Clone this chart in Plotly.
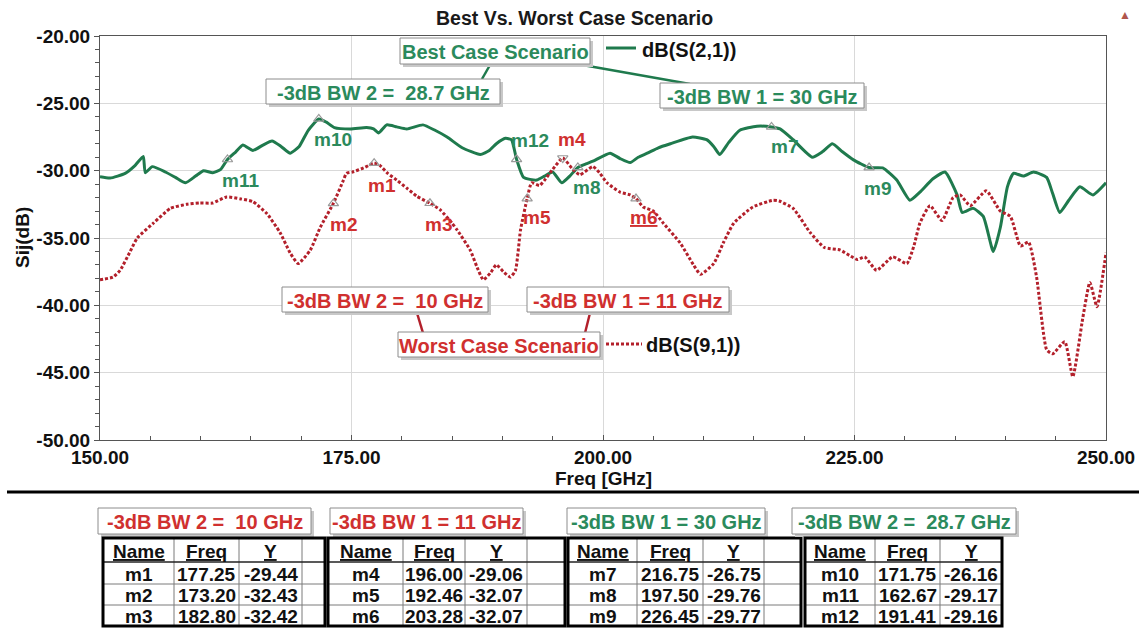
import plotly.graph_objects as go

# ---------------------------------------------------------------- data
freq_s21 = [150.0, 151.0, 152.5, 153.5, 154.3, 154.5, 155.2, 156.5, 157.5, 158.5,
            159.5, 160.3, 161.2, 162.0, 162.67, 163.5, 164.2, 165.2, 166.2, 167.1,
            168.0, 168.9, 169.8, 170.7, 171.75, 172.5, 173.3, 174.9, 176.5, 177.2,
            177.7, 178.5, 179.5, 180.5, 182.1, 183.3, 184.5, 186.0, 187.8, 188.7,
            189.4, 190.3, 190.9, 191.41, 192.1, 193.4, 194.2, 195.0, 195.9, 196.7,
            197.5, 198.3, 199.0, 200.7, 201.7, 202.7, 203.5, 204.4, 205.5, 206.7,
            208.9, 210.3, 211.0, 211.6, 212.5, 213.6, 215.3, 216.75, 217.6, 218.9,
            220.8, 221.8, 222.8, 223.8, 224.9, 226.45, 227.8, 229.2, 230.5, 231.5,
            232.8, 234.0, 235.2, 235.7, 236.8, 237.8, 238.8, 239.5, 240.2, 240.8,
            241.8, 242.8, 244.1, 244.7, 245.4, 246.3, 247.4, 248.7, 250.0]
db_s21 = [-30.45, -30.55, -30.2, -29.6, -28.95, -30.15, -29.7, -30.1, -30.5, -30.9,
          -30.4, -30.0, -30.15, -29.9, -29.17, -28.6, -28.1, -28.5, -28.1, -27.8,
          -28.2, -28.7, -28.2, -27.0, -26.16, -26.4, -26.8, -26.9, -26.8, -26.9,
          -27.2, -26.6, -26.75, -26.9, -26.6, -27.0, -27.5, -28.3, -28.8, -28.5,
          -28.0, -27.6, -27.7, -29.16, -30.5, -30.7, -30.4, -30.1, -30.9, -30.4,
          -29.76, -29.5, -29.3, -28.7, -29.1, -29.4, -29.0, -28.7, -28.3, -28.0,
          -27.5, -27.7, -28.2, -28.8, -27.9, -27.0, -26.7, -26.75, -26.9, -27.7,
          -29.0, -28.6, -28.0, -28.6, -29.2, -29.77, -29.8, -30.7, -32.2, -31.6,
          -30.6, -30.1, -31.8, -33.1, -32.8, -33.4, -36.0, -34.2, -31.2, -30.2,
          -30.4, -30.1, -30.5, -31.7, -33.1, -32.2, -31.2, -31.8, -30.9]

freq_s91 = [150.0, 151.3, 152.0, 153.0, 153.7, 155.3, 157.0, 158.6, 159.9, 161.2,
            162.6, 164.0, 165.2, 166.6, 167.9, 168.9, 169.7, 170.9, 171.9, 173.2,
            174.2, 174.5, 175.1, 176.2, 177.25, 177.8, 178.6, 179.5, 180.5, 181.5,
            182.8, 183.8, 185.0, 185.5, 186.8, 187.5, 188.1, 188.8, 189.4, 190.1,
            190.8, 191.3, 191.8, 192.46, 192.9, 193.7, 194.3, 195.0, 196.0, 197.0,
            197.7, 199.0, 199.7, 200.4, 201.7, 202.7, 203.28, 204.0, 205.0, 206.0,
            207.7, 209.0, 209.7, 211.0, 212.0, 213.0, 214.9, 216.9, 217.5, 218.9,
            220.6, 222.0, 223.6, 224.5, 225.3, 226.0, 227.2, 228.8, 230.2, 230.9,
            231.5, 232.5, 233.7, 234.8, 235.5, 236.5, 238.1, 239.5, 240.5, 241.5,
            242.3, 243.1, 244.1, 244.7, 245.9, 246.7, 247.7, 248.4, 249.1, 250.0]
db_s91 = [-38.1, -37.9, -37.4, -36.0, -35.0, -33.9, -32.8, -32.5, -32.4, -32.4,
          -31.95, -32.1, -32.3, -33.2, -34.6, -36.1, -36.9, -35.9, -34.2, -32.43,
          -30.7, -30.2, -30.1, -29.8, -29.44, -29.6, -30.2, -30.7, -31.3, -31.9,
          -32.42, -32.9, -33.9, -34.4, -35.9, -37.2, -38.1, -37.6, -37.0, -37.5,
          -37.9, -37.4, -34.4, -32.07, -30.9, -31.1, -30.6, -29.9, -29.06, -29.9,
          -30.3, -29.7, -30.2, -30.9, -31.6, -31.8, -32.07, -32.7, -33.0, -33.9,
          -35.4, -37.0, -37.7, -36.9, -35.3, -33.9, -32.7, -32.2, -32.25, -32.8,
          -34.6, -35.7, -35.9, -36.3, -36.6, -36.4, -37.4, -36.4, -36.9, -35.6,
          -33.9, -32.6, -33.7, -32.0, -31.8, -32.6, -31.5, -33.0, -33.4, -35.6,
          -35.3, -37.9, -43.3, -43.6, -42.7, -45.3, -40.9, -38.3, -40.1, -36.1]

marker_names = ["m1", "m2", "m3", "m4", "m5", "m6",
                "m7", "m8", "m9", "m10", "m11", "m12"]
marker_freq = [177.25, 173.20, 182.80, 196.00, 192.46, 203.28,
               216.75, 197.50, 226.45, 171.75, 162.67, 191.41]
marker_y = [-29.44, -32.43, -32.42, -29.06, -32.07, -32.07,
            -26.75, -29.76, -29.77, -26.16, -29.17, -29.16]

table_titles = ["-3dB BW 2 =\u00a0 10 GHz", "-3dB BW 1 = 11 GHz",
                "-3dB BW 1 = 30 GHz", "-3dB BW 2 =\u00a0 28.7 GHz"]
table_headers = ["Name", "Freq", "Y"]

best_labels = ["Best Case Scenario", "-3dB BW 2 =\u00a0 28.7 GHz", "-3dB BW 1 = 30 GHz"]
worst_labels = ["Worst Case Scenario", "-3dB BW 2 =\u00a0 10 GHz", "-3dB BW 1 = 11 GHz"]
trace_names = ["dB(S(2,1))", "dB(S(9,1))"]

x_ticks = [150, 175, 200, 225, 250]
y_ticks = [-50, -45, -40, -35, -30, -25, -20]

# ---------------------------------------------------------------- styling
W, H = 1139, 628
L, R, T, B = 100, 1106, 36, 440
FONT = "Liberation Sans, Arial, sans-serif"
GREEN_LINE = "#1f7a4d"
GREEN_TXT = "#2b8a5c"
RED_LINE = "#b3202b"
RED_TXT = "#d0302f"


def px(x):
    return (x - L) / (R - L)


def py(y):
    return (B - y) / (B - T)


shapes = []
annotations = []


def text(x, y, s, color="black", size=20, xanchor="center", angle=0):
    annotations.append(dict(
        x=px(x), y=py(y), xref="paper", yref="paper", text=s, showarrow=False,
        xanchor=xanchor, yanchor="middle", textangle=angle,
        font=dict(family=FONT, size=size, color=color, weight="bold")))


def box(x0, y0, x1, y1, label, color, size=20):
    shapes.append(dict(type="rect", xref="paper", yref="paper", layer="above",
                       x0=px(x0 + 3), x1=px(x1 + 3), y0=py(y0 + 3), y1=py(y1 + 3),
                       fillcolor="#c8c8c8", line=dict(width=0)))
    shapes.append(dict(type="rect", xref="paper", yref="paper", layer="above",
                       x0=px(x0), x1=px(x1), y0=py(y0), y1=py(y1),
                       fillcolor="white", line=dict(color="#8c8c8c", width=1)))
    text((x0 + x1) / 2, (y0 + y1) / 2 + 1, label, color, size)


def seg(x0, y0, x1, y1, color, width=2, dash="solid"):
    shapes.append(dict(type="line", xref="paper", yref="paper", layer="above",
                       x0=px(x0), x1=px(x1), y0=py(y0), y1=py(y1),
                       line=dict(color=color, width=width, dash=dash)))


fig = go.Figure()

fig.add_trace(go.Scatter(
    x=freq_s21, y=db_s21, mode="lines", name=trace_names[0],
    line=dict(color=GREEN_LINE, width=3, shape="spline", smoothing=0.5)))
fig.add_trace(go.Scatter(
    x=freq_s91, y=db_s91, mode="lines", name=trace_names[1],
    line=dict(color=RED_LINE, width=3, dash="3px,2px", shape="spline", smoothing=0.5)))

# marker triangles
symbols = ["triangle-down-open" if n == "m4" else "triangle-up-open" for n in marker_names]
fig.add_trace(go.Scatter(
    x=marker_freq, y=marker_y, mode="markers", showlegend=False,
    marker=dict(symbol=symbols, size=9, color="#9a9a9a", line=dict(width=1.2))))

# marker labels
label_offsets = {"m1": (8, 22), "m2": (10, 21), "m3": (9, 21), "m4": (9, -19),
                 "m5": (10, 19), "m6": (7, 19), "m7": (13, 20), "m8": (9, 20),
                 "m9": (8, 21), "m10": (14, 21), "m11": (13, 21), "m12": (13, -19)}
for i, name in enumerate(marker_names):
    dx, dy = label_offsets[name]
    color = RED_TXT if i < 6 else GREEN_TXT
    label = "<u>%s</u>" % name if name == "m6" else name
    annotations.append(dict(
        x=marker_freq[i], y=marker_y[i], xref="x", yref="y", text=label,
        showarrow=False, xshift=dx, yshift=-dy, xanchor="center", yanchor="middle",
        font=dict(family=FONT, size=19, color=color, weight="bold")))

# title, axis titles and corner glyph
text(574, 18, "Best Vs. Worst Case Scenario", "#1a1a1a", 19.5)
text(603, 478, "Freq [GHz]", "#111111", 19)
text(22, 238, "Sij(dB)", "#111111", 19, angle=-90)
text(1125, 15, "▲", "#b0564c", 12)

# in-plot callouts: best case (green)
seg(490, 65, 482, 79, GREEN_LINE, 2.5)
seg(577, 64, 690, 84, GREEN_LINE, 2.5)
box(400, 38, 590, 64, best_labels[0], GREEN_TXT)
box(266, 79, 500, 104, best_labels[1], GREEN_TXT)
box(660, 83, 864, 108, best_labels[2], GREEN_TXT)
seg(606, 48, 636, 48, GREEN_LINE, 3)
text(640, 50, trace_names[0], "#111111", 20, "left")

# in-plot callouts: worst case (red)
seg(417, 313, 423, 333, RED_LINE, 2.5)
seg(590, 313, 585, 333, RED_LINE, 2.5)
box(282, 287, 488, 312, worst_labels[1], RED_TXT)
box(527, 287, 729, 312, worst_labels[2], RED_TXT)
box(398, 332, 600, 357, worst_labels[0], RED_TXT)
seg(606, 344, 642, 344, RED_LINE, 3, "3px,2px")
text(644, 345, trace_names[1], "#111111", 20, "left")

# separator under the chart
shapes.append(dict(type="line", xref="paper", yref="paper", layer="above",
                   x0=px(7), x1=px(1139), y0=py(492), y1=py(492),
                   line=dict(color="black", width=3)))

# marker tables
table_cols = [[103, 174, 239, 302, 325],
              [328, 403, 465, 527, 565],
              [568, 637, 703, 764, 801],
              [805, 875, 940, 1002]]
title_boxes = [(98, 311), (330, 523), (567, 765), (792, 1016)]
row_edges = [538, 562, 584, 605, 626]
for t in range(4):
    cols = table_cols[t]
    color = RED_TXT if t < 2 else GREEN_TXT
    bx0, bx1 = title_boxes[t]
    box(bx0, 508, bx1, 534, table_titles[t], color)
    # inner grid
    for c in cols[1:-1]:
        seg(c, row_edges[0], c, row_edges[-1], "#7a7a7a", 1)
    for r in row_edges[2:-1]:
        seg(cols[0], r, cols[-1], r, "#7a7a7a", 1)
    seg(cols[0], row_edges[1], cols[-1], row_edges[1], "#222222", 1.5)
    # outer frame
    shapes.append(dict(type="rect", xref="paper", yref="paper", layer="above",
                       x0=px(cols[0]), x1=px(cols[-1]),
                       y0=py(row_edges[0]), y1=py(row_edges[-1]),
                       line=dict(color="black", width=3)))
    # header
    for c in range(3):
        xc = (cols[c] + cols[c + 1]) / 2
        text(xc, (row_edges[0] + row_edges[1]) / 2 + 1,
             "<u>%s</u>" % table_headers[c], "#111111", 19)
    # rows
    for r in range(3):
        k = t * 3 + r
        yc = (row_edges[r + 1] + row_edges[r + 2]) / 2 + 1
        vals = [marker_names[k], "%.2f" % marker_freq[k], "%.2f" % marker_y[k]]
        for c in range(3):
            xc = (cols[c] + cols[c + 1]) / 2
            text(xc, yc, vals[c], "#111111", 19)

axis_font = dict(family=FONT, size=19, color="#111111", weight="bold")
fig.update_layout(
    width=W, height=H,
    margin=dict(l=L, r=W - R, t=T, b=H - B, pad=0, autoexpand=False),
    paper_bgcolor="white", plot_bgcolor="white",
    showlegend=False,
    shapes=shapes, annotations=annotations,
    xaxis=dict(
        range=[150, 250], tickvals=x_ticks, automargin=False,
        ticktext=["%.2f" % v for v in x_ticks],
        tickfont=axis_font, showgrid=True, gridcolor="#d9d9d9", gridwidth=1,
        showline=True, linecolor="#555555", linewidth=1, mirror=True,
        ticks="inside", ticklen=5, tickcolor="#555555", zeroline=False,
        minor=dict(dtick=5, ticks="inside", ticklen=4, tickcolor="#555555",
                   showgrid=False)),
    yaxis=dict(
        range=[-50, -20], tickvals=y_ticks, automargin=False,
        ticktext=["%.2f" % v for v in y_ticks],
        tickfont=axis_font, showgrid=True, gridcolor="#d9d9d9", gridwidth=1,
        showline=True, linecolor="#555555", linewidth=1, mirror=True,
        ticks="outside", ticklen=5, tickcolor="#555555", zeroline=False,
        minor=dict(dtick=1, ticks="outside", ticklen=4, tickcolor="#555555",
                   showgrid=False)),
)

fig.write_html("out.html")
